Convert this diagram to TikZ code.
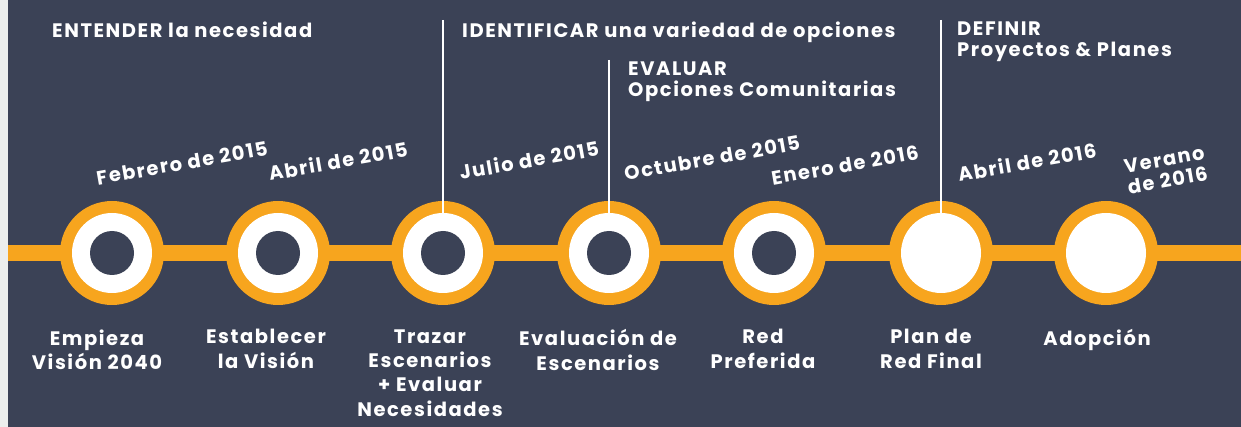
\documentclass[tikz,border=0pt]{standalone}
\usepackage{fontspec}
\setmainfont{Poppins}[LetterSpace=8]
\usetikzlibrary{positioning}
\definecolor{pizarra}{RGB}{59,66,86}
\definecolor{naranja}{RGB}{247,165,30}
\definecolor{margen}{RGB}{236,238,237}
\tikzset{
	hito/.style={circle, fill=naranja, minimum size=104pt, inner sep=0pt},
	anillo/.style={circle, fill=white, minimum size=80pt, inner sep=0pt},
	nucleo/.style={circle, fill=pizarra, minimum size=44pt, inner sep=0pt},
	etapa/.style={font=\bfseries\fontsize{19.5}{24.4}\selectfont, text=white, align=center, inner sep=0pt},
	fecha/.style={font=\bfseries\fontsize{19.5}{21}\selectfont, text=white, align=left, inner sep=0pt, rotate=10},
	fase/.style={font=\bfseries\fontsize{19.5}{21}\selectfont, text=white, align=left, anchor=north west, inner sep=0pt},
	marca/.style={draw=white, line width=2pt},
}

\begin{document}
\begin{tikzpicture}[x=1pt,y=1pt]
	\useasboundingbox (0,0) rectangle (1241,-427);
	\fill[pizarra] (0,0) rectangle (1241,-427);
	\fill[margen] (0,0) rectangle (8,-427);
	% linea de tiempo
	\coordinate (izq) at (8,-253);
	\coordinate (der) at (1241,-253);
	\draw[naranja, line width=16pt] (izq) -- (der);
	% hitos
	\foreach \i/\x in {1/112,2/278,3/443,4/609,5/774,6/941,7/1106}{
		\node[hito] (c\i) at (\x,-253) {};
		\node[anillo] (w\i) at (c\i) {};
	}
	\foreach \i in {1,...,5}{
		\node[nucleo] (n\i) at (c\i) {};
	}
	% marcas de fase
	\coordinate (m1) at (443,-20);
	\coordinate (m2) at (609,-60);
	\coordinate (m3) at (941,-20);
	\draw[marca] (m1) -- (w3.north);
	\draw[marca] (m2) -- (w4.north);
	\draw[marca] (m3) -- (w6.north);
	% fases
	\node[fase] (f1) at (52,-22) {ENTENDER la necesidad};
	\node[fase] (f2) at (462,-22) {IDENTIFICAR una variedad de opciones};
	\node[fase] (f3) at (628,-62) {EVALUAR\\Opciones Comunitarias};
	\node[fase] (f4) at (957,-22) {DEFINIR\\Proyectos \& Planes};
	% fechas
	\node[fecha] (d1) at (182,-163) {Febrero de 2015};
	\node[fecha] (d2) at (338,-161) {Abril de 2015};
	\node[fecha] (d3) at (529,-160) {Julio de 2015};
	\node[fecha] (d4) at (712,-158) {Octubre de 2015};
	\node[fecha] (d5) at (845,-165) {Enero de 2016};
	\node[fecha] (d6) at (1027,-162) {Abril de 2016};
	\node[fecha] (d7) at (1166,-170) {Verano\\de 2016};
	% etapas
	\node[etapa, below=24pt of c1, xshift=-15pt] (e1) {Empieza\\Visión 2040};
	\node[etapa, below=24pt of c2, xshift=-12pt] (e2) {Establecer\\la Visión};
	\node[etapa, below=24pt of c3, xshift=-13pt] (e3) {Trazar\\Escenarios\\+ Evaluar\\Necesidades};
	\node[etapa, below=24pt of c4, xshift=-11pt] (e4) {Evaluación de\\Escenarios};
	\node[etapa, below=24pt of c5, xshift=-11pt] (e5) {Red\\Preferida};
	\node[etapa, below=24pt of c6, xshift=-10pt] (e6) {Plan de\\Red Final};
	\node[etapa, below=24pt of c7, xshift=-9pt] (e7) {Adopción};
\end{tikzpicture}
\end{document}
